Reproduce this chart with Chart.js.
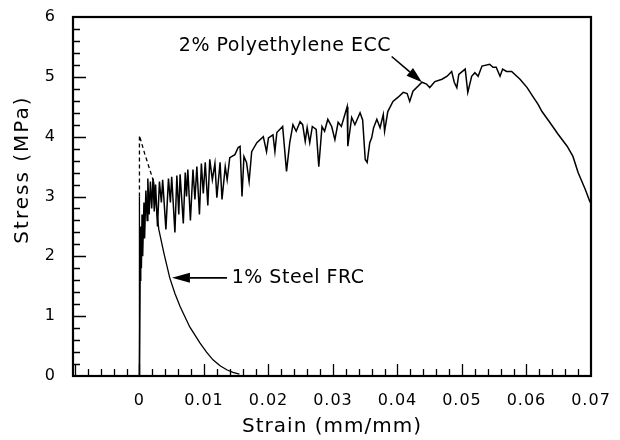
<!DOCTYPE html>
<html>
<head>
<meta charset="utf-8">
<script src="https://cdn.jsdelivr.net/npm/chart.js@4.4.1/dist/chart.umd.min.js"></script>
<style>
  html, body { margin: 0; padding: 0; background: #fff; }
  #wrap { width: 620px; height: 440px; }
</style>
</head>
<body>
<div id="wrap"><canvas id="myChart" width="620" height="440"></canvas></div>
<script>
// strain (mm/mm) / stress (MPa)
const eccStrain = [0,0.0001,0.0002,0.0003,0.0004,0.0005,0.0007,0.0008,0.001,0.0012,0.0013,0.0015,0.0017,0.0019,0.0021,0.0023,0.0025,0.0028,0.0031,0.0034,0.0036,0.0041,0.0045,0.0048,0.005,0.0055,0.0058,0.0061,0.0063,0.0068,0.0071,0.0073,0.0075,0.0079,0.0083,0.0086,0.0089,0.0093,0.0096,0.0099,0.0102,0.0106,0.0109,0.0113,0.0117,0.012,0.0125,0.0128,0.0133,0.0136,0.014,0.0148,0.0153,0.0156,0.0159,0.0162,0.0166,0.017,0.0174,0.0182,0.0192,0.0197,0.02,0.0207,0.021,0.0213,0.0222,0.0228,0.0233,0.0238,0.0243,0.0249,0.0253,0.0257,0.026,0.0264,0.0268,0.0274,0.0278,0.0283,0.0287,0.0292,0.0298,0.0303,0.0308,0.0313,0.0322,0.0323,0.0329,0.0334,0.0342,0.0346,0.035,0.0353,0.0357,0.036,0.0363,0.0368,0.0373,0.0378,0.038,0.0385,0.0393,0.0401,0.0409,0.0415,0.0419,0.0424,0.0438,0.0445,0.045,0.0458,0.0469,0.0477,0.0484,0.0488,0.0492,0.0495,0.0505,0.0509,0.0515,0.052,0.0525,0.0531,0.0543,0.0548,0.0553,0.0559,0.0563,0.0569,0.0577,0.059,0.0601,0.061,0.0618,0.0624,0.0636,0.0649,0.0663,0.0672,0.068,0.0691,0.0698,0.07];
const eccStress = [0,1.6,2.5,1.8,2.7,2.0,2.9,2.3,3.1,2.6,3.3,2.7,3.25,2.8,3.3,2.75,3.2,2.5,3.25,2.9,3.28,2.45,3.3,2.9,3.33,2.4,3.35,2.7,3.37,2.55,3.4,3.0,3.45,2.6,3.45,2.95,3.5,2.7,3.55,3.05,3.57,2.85,3.62,3.28,3.55,2.98,3.57,2.95,3.5,3.28,3.65,3.7,3.82,3.84,3.0,3.67,3.57,3.25,3.75,3.9,4.0,3.75,3.98,4.03,3.75,4.07,4.17,3.42,3.9,4.2,4.09,4.25,4.2,3.92,4.15,3.9,4.17,4.12,3.5,4.17,4.09,4.29,4.17,3.95,4.24,4.17,4.5,3.84,4.32,4.2,4.4,4.28,3.62,3.57,3.9,3.98,4.15,4.29,4.15,4.37,4.09,4.42,4.59,4.66,4.74,4.72,4.59,4.76,4.91,4.88,4.82,4.92,4.96,5.01,5.09,4.91,4.82,5.04,5.13,4.74,5.01,5.07,5.01,5.18,5.21,5.16,5.16,5.01,5.13,5.09,5.09,4.96,4.82,4.67,4.54,4.42,4.24,4.04,3.84,3.67,3.4,3.12,2.92,2.88];

const frcStrain = [0,0,0,0.0008,0.0016,0.0022,0.0026,0.003,0.0038,0.0047,0.0055,0.0063,0.0078,0.0094,0.0104,0.0114,0.0125,0.0136,0.0145,0.0155];
const frcStress = [0,3.0,4.02,3.72,3.45,3.25,2.85,2.45,2.05,1.64,1.38,1.16,0.82,0.55,0.4,0.27,0.17,0.1,0.06,0.03];

const xTickValues = [0,0.01,0.02,0.03,0.04,0.05,0.06,0.07];
const xTickLabels = ['0','0.01','0.02','0.03','0.04','0.05','0.06','0.07'];
const yTickValues = [0,1,2,3,4,5,6];

const eccPoints = eccStrain.map((s, i) => ({x: s, y: eccStress[i]}));
const frcPoints = frcStrain.map((s, i) => ({x: s, y: frcStress[i]}));

const FONT = "'DejaVu Sans', sans-serif";
const PLOT = { left: 73, top: 17, right: 591, bottom: 376 };

const spacing = {
  id: 'spacing',
  beforeLayout(chart) { chart.ctx.letterSpacing = '1px'; },
  beforeDraw(chart) {
    const c = chart.ctx;
    c.letterSpacing = '1px';
    c.save();
    c.fillStyle = '#fff';
    c.fillRect(0, 0, chart.width, chart.height);
    c.restore();
  }
};

// box round the plot + inward ticks
const frame = {
  id: 'frame',
  afterDatasetsDraw(chart) {
    const c = chart.ctx, a = chart.chartArea;
    const xs = chart.scales.x, ys = chart.scales.y;
    c.save();
    c.strokeStyle = '#000';
    c.lineWidth = 1.3;
    c.beginPath();
    for (let k = -5; k <= 35; k++) {
      const px = Math.round(xs.getPixelForValue(k * 0.002)) + 0.5;
      if (px < a.left + 2 || px > a.right - 2) continue;
      const len = k % 5 === 0 ? 12 : 7;
      c.moveTo(px, a.bottom);
      c.lineTo(px, a.bottom - len);
    }
    for (let k = 0; k <= 30; k++) {
      const py = Math.round(ys.getPixelForValue(k * 0.2)) + 0.5;
      if (py < a.top + 2 || py > a.bottom - 2) continue;
      const len = k % 5 === 0 ? 13 : 7;
      c.moveTo(a.left, py);
      c.lineTo(a.left + len, py);
    }
    c.stroke();
    c.lineWidth = 2.2;
    c.strokeRect(a.left, a.top, a.right - a.left, a.bottom - a.top);
    c.restore();
  }
};

function arrow(c, x0, y0, x1, y1, hl, hw) {
  const ang = Math.atan2(y1 - y0, x1 - x0);
  const bx = x1 - hl * Math.cos(ang), by = y1 - hl * Math.sin(ang);
  c.beginPath();
  c.moveTo(x0, y0);
  c.lineTo(bx, by);
  c.stroke();
  c.beginPath();
  c.moveTo(x1, y1);
  c.lineTo(bx + hw / 2 * Math.sin(ang), by - hw / 2 * Math.cos(ang));
  c.lineTo(bx - hw / 2 * Math.sin(ang), by + hw / 2 * Math.cos(ang));
  c.closePath();
  c.fill();
}

const notes = {
  id: 'notes',
  afterDraw(chart) {
    const c = chart.ctx;
    const X = v => chart.scales.x.getPixelForValue(v);
    const Y = v => chart.scales.y.getPixelForValue(v);
    c.save();
    c.fillStyle = '#000';
    c.strokeStyle = '#000';
    c.lineWidth = 1.6;
    c.letterSpacing = '0.5px';
    c.font = '19px ' + FONT;
    c.textBaseline = 'middle';
    c.textAlign = 'left';
    c.fillText('2% Polyethylene ECC', X(0.0061), Y(5.51));
    arrow(c, X(0.0391), Y(5.34), X(0.0438), Y(4.91), 16, 10);
    c.fillText('1% Steel FRC', X(0.0143), Y(1.64));
    arrow(c, X(0.01357), Y(1.64), X(0.00504), Y(1.64), 18, 10);

    // y axis title
    c.letterSpacing = '2px';
    c.font = '20px ' + FONT;
    c.textAlign = 'center';
    c.translate(23, Y(3.45));
    c.rotate(-Math.PI / 2);
    c.fillText('Stress (MPa)', 0, 0);
    c.restore();
  }
};

// no extra room for half labels at the ends: the plot box is fixed
const noEdgePad = s => {
  s.paddingTop = 0; s.paddingBottom = 0; s.paddingLeft = 0; s.paddingRight = 0;
};

new Chart('myChart', {
  type: 'line',
  data: {
    datasets: [{
      label: '2% Polyethylene ECC',
      data: eccPoints,
      borderColor: '#000',
      borderWidth: 1.5,
      pointRadius: 0,
      tension: 0
    }, {
      label: '1% Steel FRC',
      data: frcPoints,
      borderColor: '#000',
      borderWidth: 1.3,
      pointRadius: 0,
      tension: 0,
      segment: {
        borderDash: ctx => (ctx.p0.parsed.y >= 3 && ctx.p1.parsed.y >= 3) ? [4, 3] : undefined
      }
    }]
  },
  options: {
    responsive: false,
    animation: false,
    events: [],
    layout: { padding: { left: 0, top: PLOT.top, right: 620 - PLOT.right, bottom: 0 } },
    plugins: { legend: { display: false }, tooltip: { enabled: false } },
    scales: {
      x: {
        type: 'linear',
        min: -0.0103,
        max: 0.07,
        grid: { display: false, drawTicks: false },
        border: { display: false },
        afterBuildTicks: s => { s.ticks = xTickValues.map(v => ({ value: v })); },
        afterFit: s => { s.height = 440 - PLOT.bottom; noEdgePad(s); },
        ticks: {
          color: '#000',
          padding: 15,
          maxRotation: 0,
          font: { family: FONT, size: 16 },
          callback: v => xTickLabels[xTickValues.indexOf(Math.round(v * 100) / 100)] ?? ''
        },
        title: {
          display: true,
          text: 'Strain (mm/mm)',
          color: '#000',
          font: { family: FONT, size: 20 },
          padding: { top: 0, bottom: 1 }
        }
      },
      y: {
        min: 0,
        max: 6,
        grid: { display: false, drawTicks: false },
        border: { display: false },
        afterBuildTicks: s => { s.ticks = yTickValues.map(v => ({ value: v })); },
        afterFit: s => { s.width = PLOT.left; noEdgePad(s); },
        ticks: {
          color: '#000',
          padding: 17,
          font: { family: FONT, size: 16 },
          callback: v => String(v)
        }
      }
    }
  },
  plugins: [spacing, frame, notes]
});
</script>
</body>
</html>
